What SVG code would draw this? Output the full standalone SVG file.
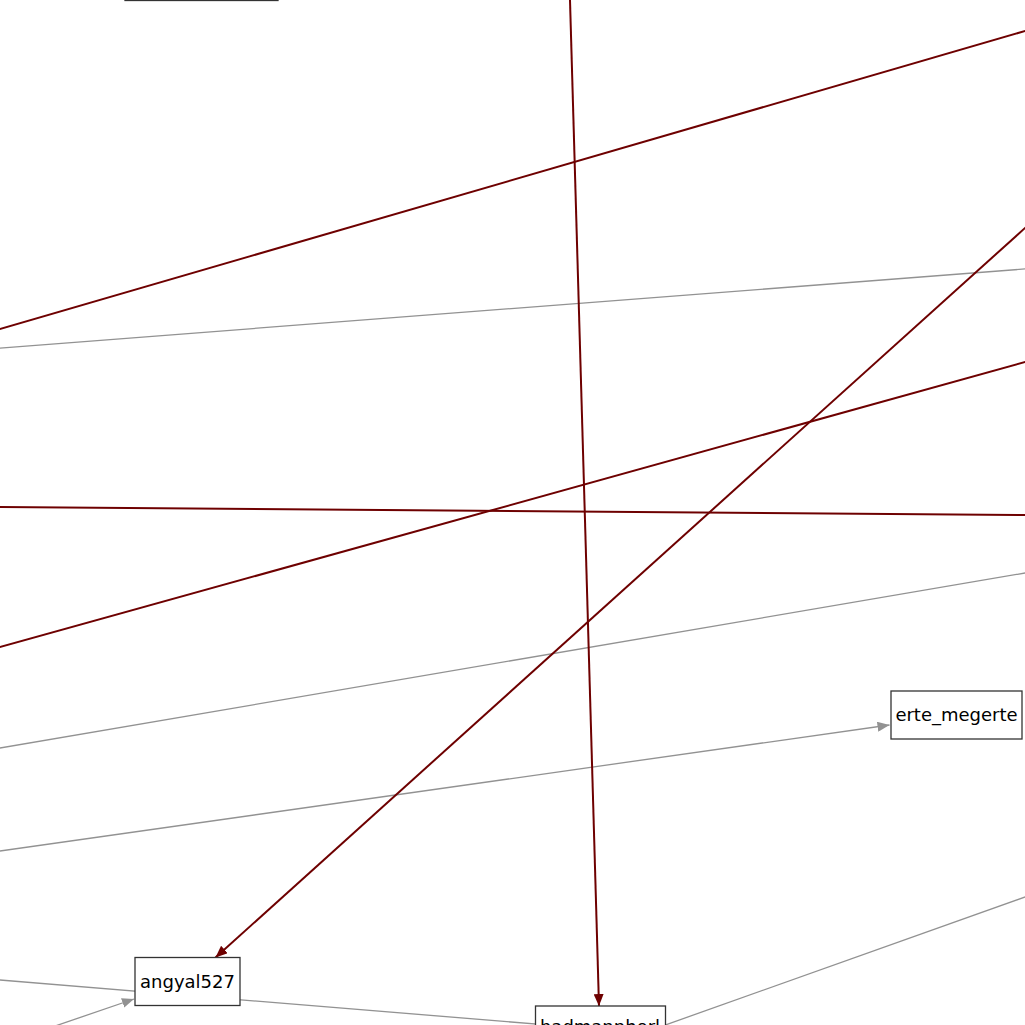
<svg xmlns="http://www.w3.org/2000/svg" width="1025" height="1025" viewBox="0 0 1025 1025">
<style>
.bg{fill:#ffffff}
.red{stroke:#6e0000;stroke-width:2;fill:none}
.gray{stroke:#929292;stroke-width:1.3;fill:none}
.node rect{fill:#ffffff;stroke:#333333;stroke-width:1.3}
.node text{font-family:"DejaVu Sans",Verdana,sans-serif;font-size:18px;fill:#000000;text-anchor:middle}
</style>
<defs>
<marker id="ar" markerUnits="userSpaceOnUse" viewBox="0 0 12 10" refX="12" refY="5" markerWidth="12" markerHeight="10" orient="auto">
<path d="M0,0 L12,5 L0,10 z" fill="#6e0000"/>
</marker>
<marker id="ag" markerUnits="userSpaceOnUse" viewBox="0 0 12 10" refX="12" refY="5" markerWidth="12" markerHeight="10" orient="auto">
<path d="M0,0 L12,5 L0,10 z" fill="#929292"/>
</marker>
</defs>
<rect class="bg" x="0" y="0" width="1025" height="1025"/>
<g id="edges">
<line class="gray" x1="-10" y1="348.8" x2="1035" y2="268.2"/>
<line class="gray" x1="-10" y1="749.7" x2="1035" y2="571.3"/>
<line class="gray" x1="-10" y1="852.4" x2="889.5" y2="725" marker-end="url(#ag)"/>
<line class="gray" x1="-10" y1="979.2" x2="560" y2="1026"/>
<line class="gray" x1="40" y1="1031.2" x2="134" y2="999" marker-end="url(#ag)"/>
<line class="gray" x1="640" y1="1034" x2="1035" y2="893.5"/>
<line class="red" x1="-10" y1="331.9" x2="1035" y2="28.1"/>
<line class="red" x1="-10" y1="649.8" x2="1035" y2="359.2"/>
<line class="red" x1="-10" y1="506.9" x2="1035" y2="515.1"/>
<line class="red" x1="1035" y1="219" x2="215.5" y2="957.5" marker-end="url(#ar)"/>
<line class="red" x1="569.7" y1="-10" x2="599" y2="1006" marker-end="url(#ar)"/>
</g>
<g id="node_top" class="node">
<rect x="125" y="-48" width="153" height="48.5"/>
</g>
<g id="node_angyal527" class="node">
<rect x="135" y="957.5" width="105" height="48"/>
<text x="187.5" y="987.5">angyal527</text>
</g>
<g id="node_erte_megerte" class="node">
<rect x="891" y="691" width="131" height="48"/>
<text x="956.5" y="721">erte_megerte</text>
</g>
<g id="node_bottom" class="node">
<rect x="535.5" y="1006" width="130" height="60"/>
<text x="600" y="1033">badmannherl</text>
</g>
</svg>
